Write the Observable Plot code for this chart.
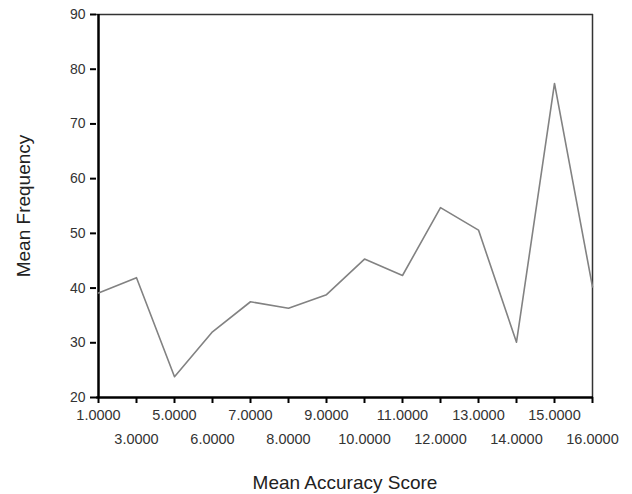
<!DOCTYPE html>
<html>
<head>
<meta charset="utf-8">
<script src="https://cdn.jsdelivr.net/npm/d3@7"></script>
<script src="https://cdn.jsdelivr.net/npm/@observablehq/plot@0.6"></script>
<style>
  html, body { margin: 0; padding: 0; background: #fff; }
  #chart svg { display: block; }
</style>
</head>
<body>
<div id="chart"></div>
<script>
const accuracyScores = [1, 3, 5, 6, 7, 8, 9, 10, 11, 12, 13, 14, 15, 16];
const meanFrequency = [39.1, 41.9, 23.8, 32.0, 37.5, 36.3, 38.8, 45.3, 42.3, 54.7, 50.6, 30.1, 77.4, 40.2];
const yTicks = [20, 30, 40, 50, 60, 70, 80, 90];
const xLabelRow1 = [1, 5, 7, 9, 11, 13, 15];
const xLabelRow2 = [3, 6, 8, 10, 12, 14, 16];

const data = accuracyScores.map((s, i) => ({score: s, freq: meanFrequency[i]}));
const fmt = d => d.toFixed(4);
const font = "Liberation Sans, Arial, sans-serif";
const first = accuracyScores[0], last = accuracyScores[accuracyScores.length - 1];

const chart = Plot.plot({
  width: 632,
  height: 494,
  marginLeft: 96,
  marginRight: 39,
  marginTop: 14,
  marginBottom: 97,
  style: {fontFamily: font, background: "#fff"},
  x: {type: "point", domain: accuracyScores, padding: 0},
  y: {type: "linear", domain: [20, 90]},
  marks: [
    Plot.axisY(yTicks, {tickSize: 6, tickPadding: 5, fontSize: 14, fill: "#333", stroke: "#000", strokeWidth: 2, strokeOpacity: 1,
      label: "Mean Frequency", labelAnchor: "center", labelArrow: "none", labelOffset: 80}),
    Plot.axisX(accuracyScores, {tickSize: 6, tickFormat: () => "", stroke: "#000", strokeWidth: 2, strokeOpacity: 1,
      label: "Mean Accuracy Score", labelAnchor: "center", labelArrow: "none", labelOffset: 91}),
    Plot.axisX(xLabelRow1, {tickSize: 0, tickPadding: 12, tickFormat: fmt, fontSize: 14.5, fill: "#333", label: null}),
    Plot.axisX(xLabelRow2, {tickSize: 0, tickPadding: 36, tickFormat: fmt, fontSize: 14.5, fill: "#333", label: null}),
    // frame
    Plot.ruleY([90], {stroke: "#333", strokeWidth: 1.3}),
    Plot.ruleX([last], {stroke: "#333", strokeWidth: 1.5}),
    Plot.ruleX([first], {stroke: "#000", strokeWidth: 2.5, strokeOpacity: 1}),
    Plot.ruleY([20], {stroke: "#000", strokeWidth: 2.5, strokeOpacity: 1}),
    Plot.line(data, {x: "score", y: "freq", stroke: "#828282", strokeWidth: 1.6})
  ]
});

// enlarge axis labels
chart.querySelectorAll("g[aria-label='y-axis label'] text, g[aria-label='x-axis label'] text").forEach(t => {
  t.setAttribute("font-size", 19);
  t.style.fontSize = "19px";
  t.setAttribute("fill", "#222");
});

document.getElementById("chart").appendChild(chart);
</script>
</body>
</html>
